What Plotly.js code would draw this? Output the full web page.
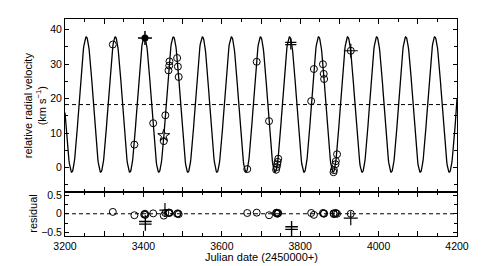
<!DOCTYPE html>
<html>
<head>
<meta charset="utf-8">
<script src="https://cdn.plot.ly/plotly-3.0.1.min.js"></script>
<style>html,body{margin:0;padding:0;background:#fff;}#chart{width:504px;height:266px;}</style>
</head>
<body>
<div id="chart"></div>
<script>
// ---- Orbit model parameters (fitted curve) ----
const gamma = 18.3;      // systemic velocity (dashed line), km/s
const semiAmp = 19.6;    // K, km/s
const period = 74.1;     // days
const tPeak = 3254.2;    // time of first maximum (JD-2450000)

// ---- Radial velocity measurements (open circles) ----
const rvDate = [3322, 3377, 3425, 3452, 3456, 3464, 3466, 3466.5, 3486, 3488, 3490,
                3665, 3689, 3720.5, 3744, 3742.5, 3741.5, 3740, 3738.5,
                3828, 3835, 3858, 3860, 3861, 3894, 3891, 3890, 3886, 3885];
const rvVel  = [35.7, 6.7, 12.9, 7.7, 15.2, 28.2, 29.6, 30.8, 31.8, 29.3, 26.3,
                -0.4, 30.7, 13.5, 2.6, 1.7, 1.0, 0.2, -0.6,
                19.3, 28.6, 30.0, 27.2, 25.7, 3.9, 1.9, 1.0, -0.7, -1.3];
const resVal = [0.05, -0.04, 0.01, -0.05, 0.02, 0.03, 0.02, 0.03, 0.0, 0.01, -0.01,
                0.02, 0.03, -0.04, 0.02, 0.01, 0.0, 0.03, 0.02,
                0.02, -0.03, 0.02, 0.0, 0.01, 0.0, 0.02, 0.01, -0.01, 0.01];

// ---- Other data sets (special symbols) ----
const filledDate = [3404];  const filledVel = [37.6];
const filledResDate = [3402, 3404, 3405]; const filledRes = [-0.02, 0.0, -0.03];
const starDate = [3452];    const starVel = [9.3];
const starResDate = [3455]; const starRes = [0.1];
const hashDate = [3776];    const hashVel = [35.9];
const hashBarDate = [3776, 3776]; const hashBarVel = [36.3, 35.7];
const hashResDate = [3405, 3778]; const hashRes = [-0.25, -0.4];
const hashResBarDate = [3405, 3405, 3778, 3778]; const hashResBar = [-0.21, -0.28, -0.35, -0.42];
const crossDate = [3929];   const crossVel = [33.9];
const crossResDate = [3929]; const crossResCircle = [0.0]; const crossRes = [-0.12];

// ---- Axis ranges ----
const xRange = [3200, 4200];
const vRange = [-6.9, 43.1];
const rRange = [-0.6, 0.6];

// model curve (the fitted orbit)
const modelT = [], modelV = [];
for (let t = xRange[0]; t <= xRange[1]; t += 1) {
  modelT.push(t);
  modelV.push(gamma + semiAmp * Math.cos(2 * Math.PI * (t - tPeak) / period));
}

const blk = '#000';
const circ = {symbol: 'circle-open', size: 7, color: blk, line: {width: 1, color: blk}};
const traces = [
  {x: modelT, y: modelV, xaxis: 'x2', yaxis: 'y2', mode: 'lines', line: {color: blk, width: 1.3}, hoverinfo: 'skip'},
  {x: rvDate, y: rvVel, xaxis: 'x2', yaxis: 'y2', mode: 'markers', marker: circ},
  {x: filledDate, y: filledVel, xaxis: 'x2', yaxis: 'y2', mode: 'markers', marker: {symbol: 'circle', size: 7, color: blk}},
  {x: filledDate, y: filledVel, xaxis: 'x2', yaxis: 'y2', mode: 'markers', marker: {symbol: 'cross-thin-open', size: 10, color: blk, line: {width: 1.5, color: blk}}},
  {x: starDate, y: starVel, xaxis: 'x2', yaxis: 'y2', mode: 'markers', marker: {symbol: 'star-open', size: 9, color: blk, line: {width: 1, color: blk}}},
  {x: hashDate, y: hashVel, xaxis: 'x2', yaxis: 'y2', mode: 'markers', marker: {symbol: 'line-ns-open', size: 8, color: blk, line: {width: 1.2, color: blk}}},
  {x: hashBarDate, y: hashBarVel, xaxis: 'x2', yaxis: 'y2', mode: 'markers', marker: {symbol: 'line-ew-open', size: 8, color: blk, line: {width: 1.2, color: blk}}},
  {x: crossDate, y: crossVel, xaxis: 'x2', yaxis: 'y2', mode: 'markers', marker: circ},
  {x: crossDate, y: crossVel, xaxis: 'x2', yaxis: 'y2', mode: 'markers', marker: {symbol: 'cross-thin-open', size: 10, color: blk, line: {width: 1.2, color: blk}}},
  // residual panel
  {x: rvDate, y: resVal, xaxis: 'x', yaxis: 'y', mode: 'markers', marker: circ},
  {x: filledResDate, y: filledRes, xaxis: 'x', yaxis: 'y', mode: 'markers', marker: circ},
  {x: starResDate, y: starRes, xaxis: 'x', yaxis: 'y', mode: 'markers', marker: {symbol: 'line-ns-open', size: 10, color: blk, line: {width: 1.2, color: blk}}},
  {x: starResDate, y: starRes, xaxis: 'x', yaxis: 'y', mode: 'markers', marker: {symbol: 'line-ew-open', size: 8, color: blk, line: {width: 1.2, color: blk}}},
  {x: hashResDate, y: hashRes, xaxis: 'x', yaxis: 'y', mode: 'markers', marker: {symbol: 'line-ns-open', size: 11, color: blk, line: {width: 1.4, color: blk}}},
  {x: hashResBarDate, y: hashResBar, xaxis: 'x', yaxis: 'y', mode: 'markers', marker: {symbol: 'line-ew-open', size: 9, color: blk, line: {width: 1.4, color: blk}}},
  {x: crossResDate, y: crossResCircle, xaxis: 'x', yaxis: 'y', mode: 'markers', marker: circ},
  {x: crossResDate, y: crossRes, xaxis: 'x', yaxis: 'y', mode: 'markers', marker: {symbol: 'cross-thin-open', size: 10, color: blk, line: {width: 1.2, color: blk}}}
];

const fnt = {family: 'Liberation Sans, Arial, sans-serif', size: 11, color: blk};
const tfnt = {family: 'Liberation Sans, Arial, sans-serif', size: 10.5, color: blk};
const axBase = {showline: true, linecolor: blk, linewidth: 1, mirror: 'allticks', ticks: 'inside',
  tickcolor: blk, tickwidth: 1, showgrid: false, zeroline: false, tickfont: tfnt};
const split = 0.205;

const layout = {
  width: 504, height: 266,
  margin: {l: 65, r: 47, t: 19, b: 30},
  paper_bgcolor: '#fff', plot_bgcolor: '#fff',
  showlegend: false, font: fnt,
  xaxis: Object.assign({}, axBase, {domain: [0, 1], anchor: 'y', range: xRange, tick0: 3200, dtick: 100,
    ticklabelstep: 2, ticklen: 5, minor: {ticks: 'inside', tick0: 3200, dtick: 50, ticklen: 3, tickcolor: blk}}),
  xaxis2: Object.assign({}, axBase, {domain: [0, 1], anchor: 'y2', matches: 'x', range: xRange, tick0: 3200, dtick: 100,
    showticklabels: false, ticklen: 5, minor: {ticks: 'inside', tick0: 3200, dtick: 50, ticklen: 3, tickcolor: blk}}),
  yaxis: Object.assign({}, axBase, {domain: [0, split], anchor: 'x', range: rRange, tick0: 0, dtick: 0.5,
    ticklen: 4, minor: {ticks: 'inside', dtick: 0.25, ticklen: 3, tickcolor: blk}}),
  yaxis2: Object.assign({}, axBase, {domain: [split, 1], anchor: 'x2', range: vRange, tick0: 0, dtick: 10,
    ticklen: 4, minor: {ticks: 'inside', dtick: 5, ticklen: 3, tickcolor: blk}}),
  shapes: [
    {type: 'line', xref: 'x2 domain', yref: 'y2', x0: 0, x1: 1, y0: gamma, y1: gamma, line: {color: blk, width: 1, dash: '4px,3px'}},
    {type: 'line', xref: 'x domain', yref: 'y', x0: 0, x1: 1, y0: 0, y1: 0, line: {color: blk, width: 1, dash: '4px,3px'}}
  ],
  annotations: [
    {text: 'relative radial velocity<br>(km s<sup>−1</sup>)', xref: 'paper', yref: 'paper', x: 0, y: (1 + split) / 2,
     xanchor: 'center', yanchor: 'middle', xshift: -30, textangle: -90, showarrow: false, font: fnt},
    {text: 'residual', xref: 'paper', yref: 'paper', x: 0, y: split / 2, xanchor: 'center', yanchor: 'middle',
     xshift: -32, textangle: -90, showarrow: false, font: fnt},
    {text: 'Julian date (2450000+)', xref: 'paper', yref: 'paper', x: 0.5, y: 0, xanchor: 'center', yanchor: 'middle',
     yshift: -21, showarrow: false, font: fnt}
  ]
};

Plotly.newPlot('chart', traces, layout, {staticPlot: true, displayModeBar: false});
</script>
</body>
</html>
